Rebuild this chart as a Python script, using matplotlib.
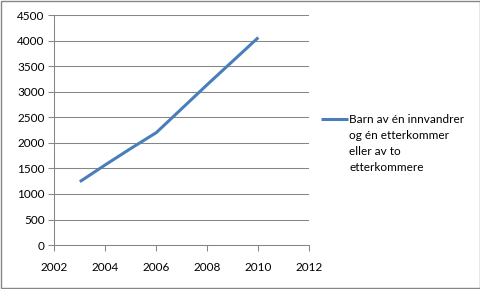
import matplotlib.pyplot as plt
from matplotlib.lines import Line2D
from matplotlib.patches import Rectangle

years = [2003, 2004, 2005, 2006, 2007, 2008, 2009, 2010]
values = [1240, 1570, 1890, 2200, 2670, 3140, 3600, 4060]
label_lines = ['Barn av én innvandrer', 'og én etterkommer', 'eller av to', 'etterkommere']

x_ticks = [2002, 2004, 2006, 2008, 2010, 2012]
y_ticks = list(range(0, 4501, 500))

plt.rcParams['font.family'] = ['Lato', 'DejaVu Sans']

fig = plt.figure(figsize=(4.81, 2.89), dpi=100)
ax = fig.add_axes([0.113, 0.152, 0.530, 0.796])

line, = ax.plot(years, values, color='#4a7ebb', linewidth=2.2, solid_capstyle='butt')

ax.set_xlim(2002, 2012)
ax.set_ylim(0, 4500)
ax.set_xticks(x_ticks)
ax.set_yticks(y_ticks)
ax.yaxis.grid(True, color='#868686', linewidth=0.75)
ax.set_axisbelow(True)

for side in ['top', 'right']:
    ax.spines[side].set_visible(False)
for side in ['left', 'bottom']:
    ax.spines[side].set_color('#868686')
    ax.spines[side].set_linewidth(0.75)

ax.tick_params(axis='y', length=4, width=0.75, color='#868686', pad=3,
               labelsize=8.5, labelcolor='#000000')
ax.tick_params(axis='x', length=4, width=0.75, color='#868686', pad=8,
               labelsize=8.5, labelcolor='#000000')

# legend: the sample line sits next to the first line of the wrapped label
blank = Line2D([], [], linestyle='none')
handles = [line] + [blank] * (len(label_lines) - 1)
leg = fig.legend(handles, label_lines, loc='upper left', bbox_to_anchor=(0.667, 0.604),
                 frameon=False, fontsize=8.5, handlelength=2.3, handletextpad=0.1,
                 borderpad=0, borderaxespad=0, labelspacing=0.42)

# grey frame around the whole picture
fig.add_artist(Rectangle((0.002, 0.004), 0.995, 0.992, transform=fig.transFigure,
                         fill=False, edgecolor='#868686', linewidth=1.0))

fig.savefig('out.png', dpi=100)
